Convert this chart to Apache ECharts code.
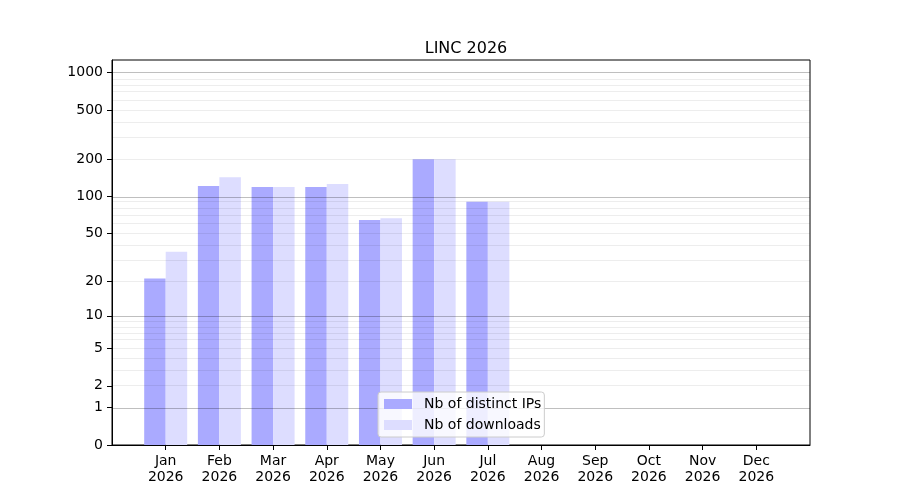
<!DOCTYPE html>
<html>
<head>
<meta charset="utf-8">
<script src="https://cdn.jsdelivr.net/npm/echarts@6/dist/echarts.min.js"></script>
<style>
  html, body { margin: 0; padding: 0; background: #fff; }
  #chart { width: 900px; height: 500px; }
</style>
</head>
<body>
<div id="chart"></div>
<script>
// data
const months = ['Jan', 'Feb', 'Mar', 'Apr', 'May', 'Jun', 'Jul', 'Aug', 'Sep', 'Oct', 'Nov', 'Dec']
const year = '2026'
const distinctIps = [21, 121, 119, 119, 64, 200, 90, 0, 0, 0, 0, 0]
const downloads = [35, 143, 119, 126, 66, 200, 90, 0, 0, 0, 0, 0]
const yTicks = [0, 1, 2, 5, 10, 20, 50, 100, 200, 500, 1000]
const majorGrid = [1, 10, 100, 1000]
const minorGrid = [2, 3, 4, 5, 6, 7, 8, 9, 20, 30, 40, 50, 60, 70, 80, 90, 200, 300, 400, 500, 600, 700, 800, 900]
const yTop = 1264

// y scale is log10(1 + v)
const fwd = v => Math.log10(1 + v)
const inv = t => Math.pow(10, t) - 1

// one empty slot either side, like the reference's margins
const cats = [''].concat(months.map(m => m + '\n' + year), [''])
const pad = arr => [null].concat(arr.map(fwd), [null])

const font = 'DejaVu Sans'
const chart = echarts.init(document.getElementById('chart'))

const gridLine = (vals, color) => vals.map(v => ({ yAxis: fwd(v), lineStyle: { color: color, width: 1, type: 'solid' } }))

chart.setOption({
  animation: false,
  textStyle: { fontFamily: font },
  title: {
    text: 'LINC 2026',
    left: 461, top: 36, textAlign: 'center',
    textStyle: { fontFamily: font, fontSize: 16, fontWeight: 'normal', color: '#000' }
  },
  grid: {
    left: 112, right: 90, top: 60, bottom: 55,
    show: true, borderColor: '#000', borderWidth: 1, backgroundColor: 'transparent'
  },
  legend: {
    data: ['Nb of distinct IPs', 'Nb of downloads'],
    orient: 'vertical',
    left: 378, top: 392,
    itemWidth: 28, itemHeight: 10, itemGap: 7,
    padding: [5, 3, 5, 6],
    icon: 'rect',
    backgroundColor: 'rgba(255,255,255,0.8)',
    borderColor: '#cccccc', borderWidth: 1, borderRadius: 3,
    textStyle: { fontFamily: font, fontSize: 14, color: '#000', padding: [0, 0, 0, 7] },
    z: 20
  },
  xAxis: {
    type: 'category',
    data: cats,
    boundaryGap: false,
    axisLine: { lineStyle: { color: '#000', width: 1 } },
    axisTick: {
      length: 5,
      interval: (i, v) => v !== '',
      lineStyle: { color: '#000' }
    },
    axisLabel: {
      interval: 0, margin: 8, color: '#000',
      fontFamily: font, fontSize: 14, lineHeight: 16
    },
    splitLine: { show: false }
  },
  yAxis: {
    type: 'value',
    min: 0, max: fwd(yTop),
    axisLine: { show: true, lineStyle: { color: '#000', width: 1 } },
    axisTick: { show: true, length: 5, customValues: yTicks.map(fwd), lineStyle: { color: '#000' } },
    axisLabel: {
      customValues: yTicks.map(fwd),
      formatter: t => String(Math.round(inv(t))),
      margin: 9, color: '#000', fontFamily: font, fontSize: 14
    },
    splitLine: { show: false }
  },
  series: [
    {
      name: 'Nb of distinct IPs', type: 'bar',
      data: pad(distinctIps),
      barWidth: 21.5, barGap: '0%',
      itemStyle: { color: '#aaaaff' }
    },
    {
      name: 'Nb of downloads', type: 'bar',
      data: pad(downloads),
      barWidth: 21.5, barGap: '0%',
      itemStyle: { color: '#ddddff' }
    },
    {
      // gridlines sit over the bars in the reference
      name: 'grid', type: 'line', data: [], z: 10, silent: true,
      markLine: {
        silent: true, symbol: 'none', label: { show: false },
        data: gridLine(minorGrid, 'rgba(0,0,0,0.07)').concat(gridLine(majorGrid, 'rgba(0,0,0,0.25)'))
      }
    }
  ]
})
</script>
</body>
</html>
